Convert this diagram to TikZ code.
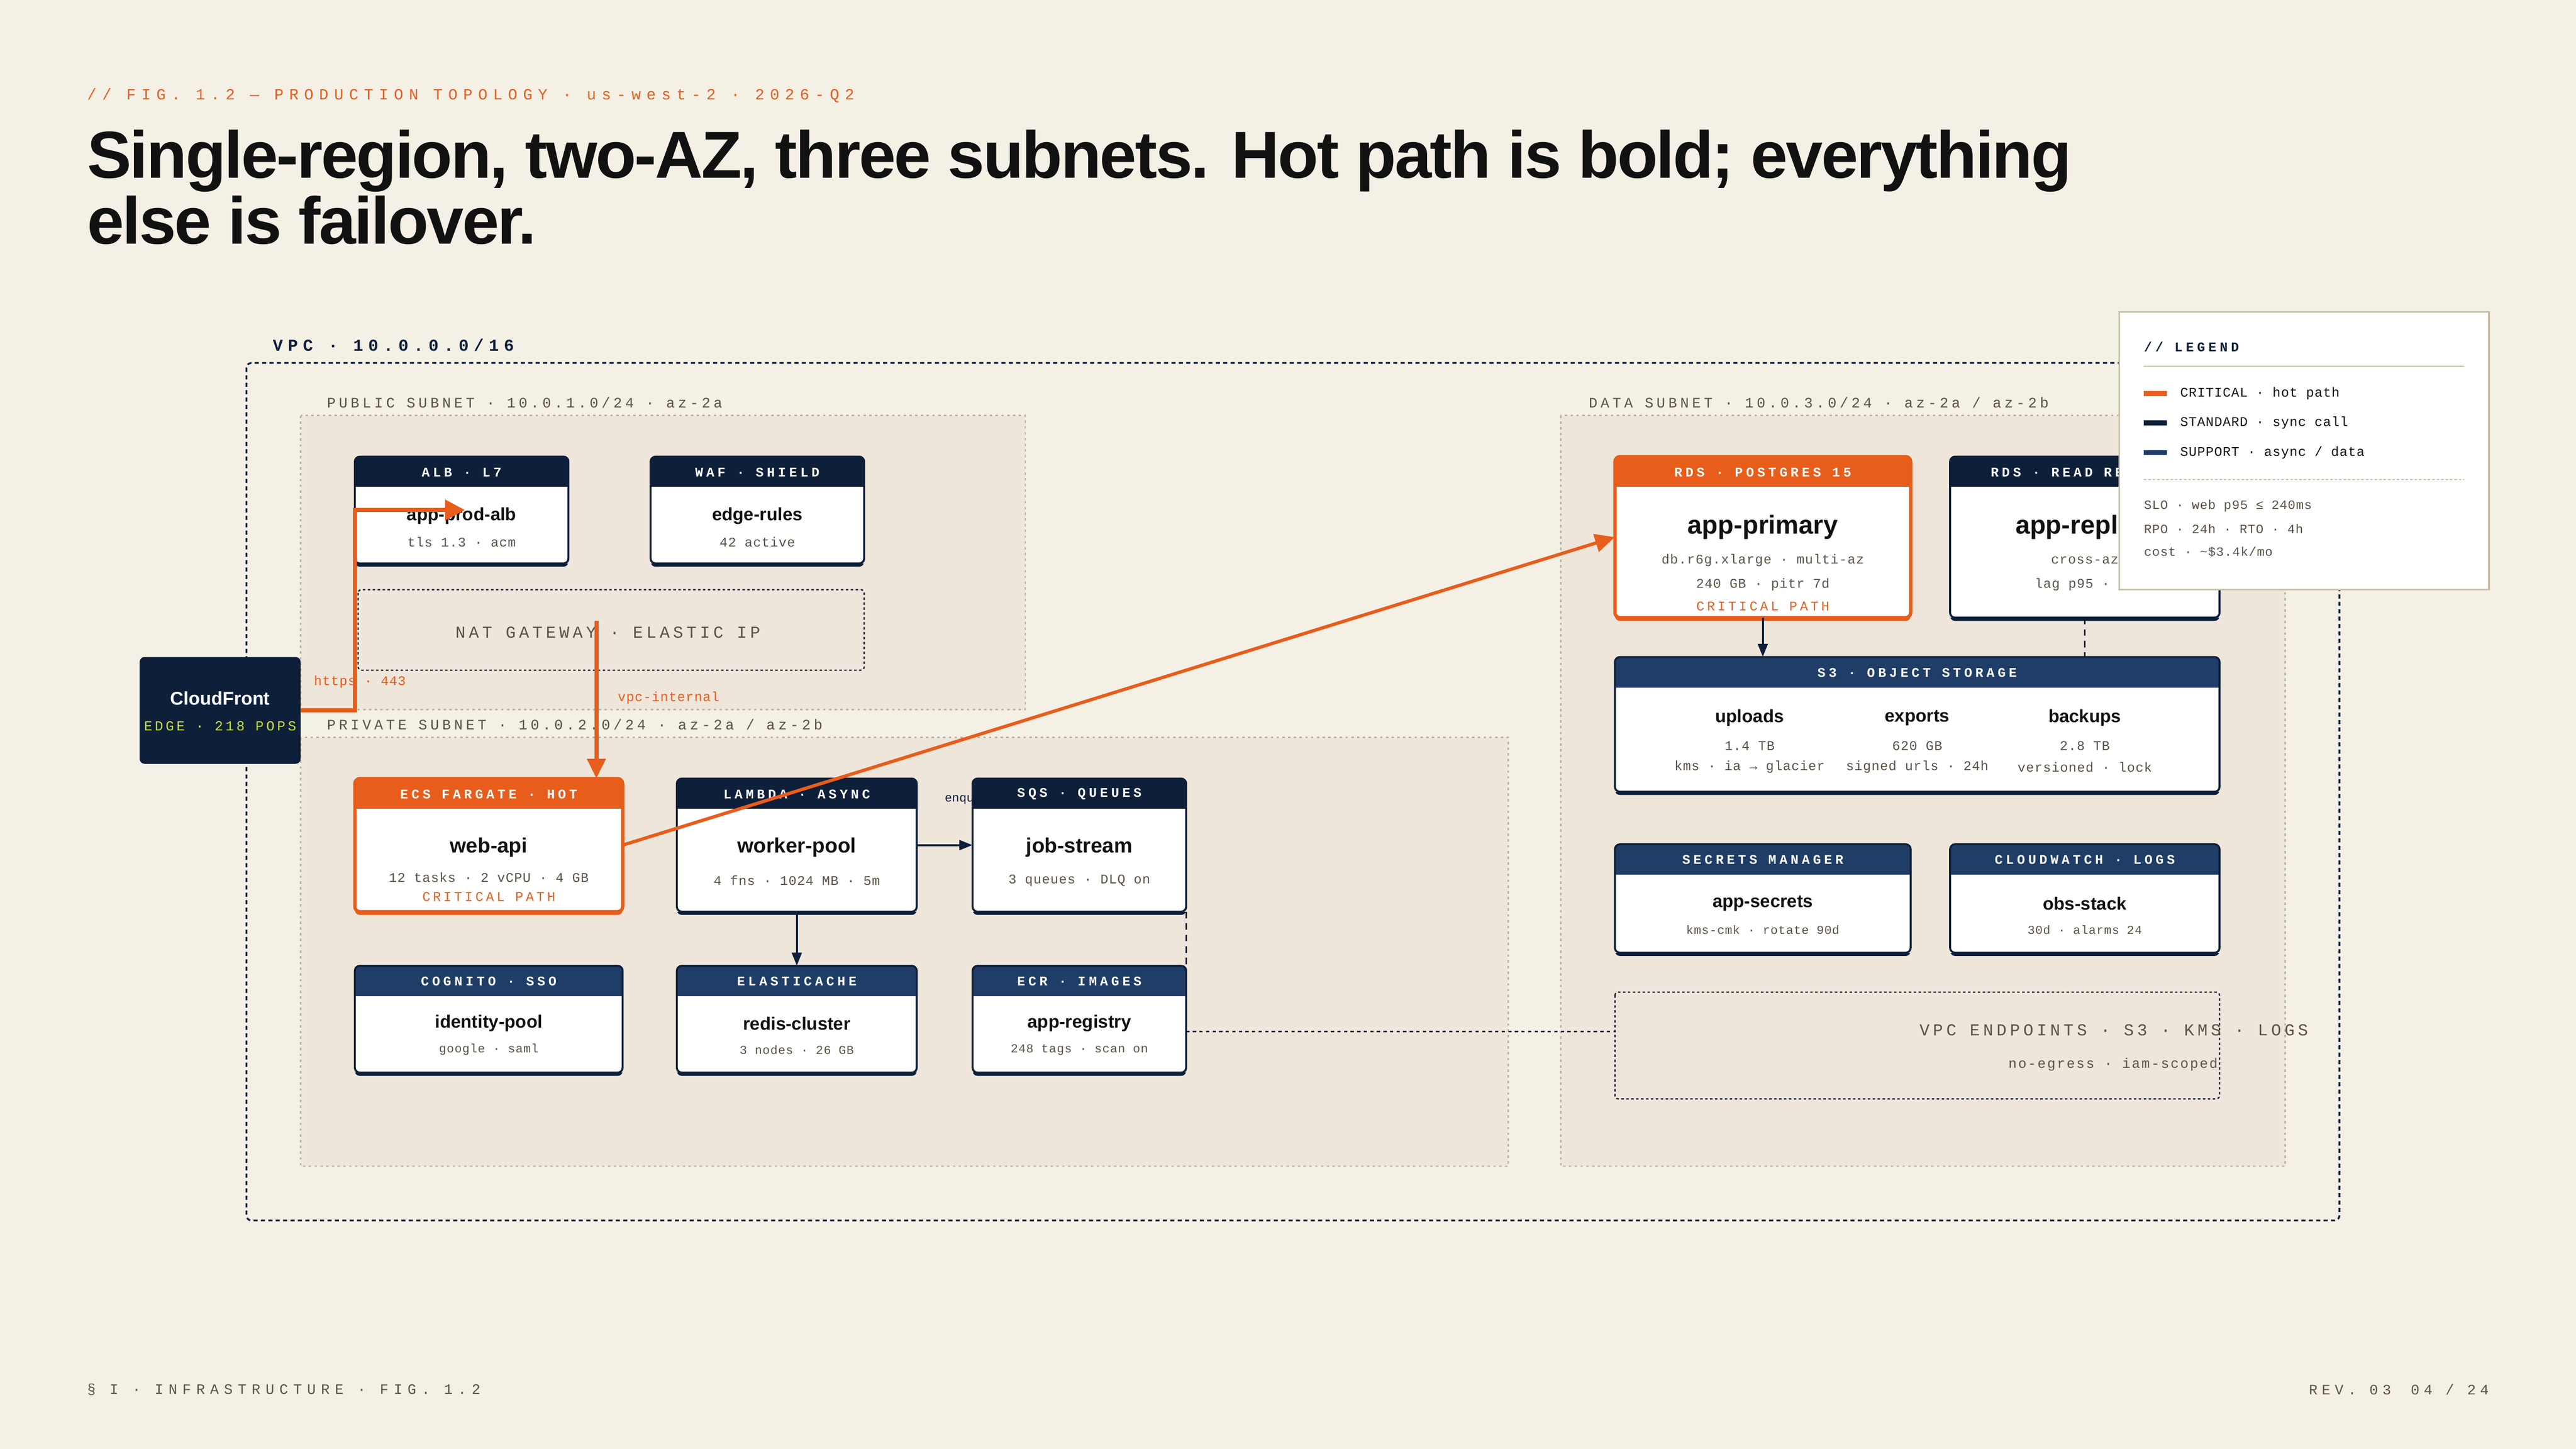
\documentclass[tikz,border=0pt]{standalone}
\usepackage{fontspec}
\setmainfont{Liberation Sans}
\newfontfamily\mono{Liberation Mono}
\usetikzlibrary{arrows.meta,calc}
\definecolor{bg}{HTML}{F4F0E6}
\definecolor{sub}{HTML}{EEE6DA}
\definecolor{navy}{HTML}{0E1F3A}
\definecolor{mblue}{HTML}{1F3D66}
\definecolor{org}{HTML}{E85D1C}
\definecolor{gtx}{HTML}{5B5347}
\definecolor{tan}{HTML}{C9C0A8}
\definecolor{ink}{HTML}{111111}
\definecolor{lime}{HTML}{C8E03C}
\newcommand\fsz[1]{\fontsize{#1pt}{#1pt}\selectfont}
\newcommand\ls[1]{\addfontfeature{LetterSpace=#1}}
\tikzset{
 cardN/.style={color=navy,line width=1.2mm},
 cardO/.style={color=org,line width=2mm},
 hdr/.style={text=white,font=\mono\bfseries\fsz{23}\ls{24},inner sep=0},
 ttl/.style={text=ink,font=\bfseries\fsz{31},inner sep=0},
 subt/.style={text=gtx,font=\mono\fsz{23}\ls{4},inner sep=0},
 crit/.style={text=org,font=\mono\fsz{23}\ls{20},inner sep=0},
 lbl/.style={text=gtx,font=\mono\fsz{25}\ls{22},inner sep=0,anchor=west},
 hot/.style={draw=org,line width=2.5mm,-{Triangle[length=12mm,width=11mm]}},
 std/.style={draw=navy,line width=1.3mm,-{Triangle[length=8mm,width=6mm]}},
 sup/.style={draw=navy,line width=1.1mm,dash pattern=on 4mm off 3mm},
}
\newcommand\card[8]{%
 \fill[#7] (#2,#3+2) [rounded corners=3mm] rectangle (#4,#5+2);
 \node[fill=white,inner sep=0,minimum width={(#4-#2)*1mm},minimum height={(#5-#3)*1mm}] (#1) at ({(#2+#4)/2},{(#3+#5)/2}) {};
 \begin{scope}\clip[rounded corners=3mm] (#2,#3) rectangle (#4,#5);
 \fill[#6] (#2,#3) rectangle (#4,#3+18.5);\end{scope}
 \draw[#7,rounded corners=3mm] (#2,#3) rectangle (#4,#5);
 \node[hdr] (#1-h) at ({(#2+#4)/2},#3+9.5) {#8};
}
\begin{document}
\begin{tikzpicture}[x=1mm,y=-1mm]
\useasboundingbox (0,0) rectangle (1568,882);
\fill[bg] (0,0) rectangle (1568,882);
% header
\node[anchor=west,text=org,font=\mono\fsz{27}\ls{36},inner sep=0] (fig) at (53,58) {// FIG. 1.2 — PRODUCTION TOPOLOGY · us-west-2 · 2026-Q2};
\node[anchor=north west,text=ink,font=\bfseries\fontsize{115pt}{113.8pt}\selectfont\addfontfeature{LetterSpace=-2.5},inner sep=0,align=left] (title) at (53,79) {Single-region, two-AZ, three subnets. Hot path is bold; everything\\else is failover.};
% VPC
\node[anchor=west,text=navy,font=\mono\bfseries\fsz{29}\ls{30},inner sep=0] (vpcl) at (166,210) {VPC · 10.0.0.0/16};
\draw[navy,line width=1.1mm,dash pattern=on 2.5mm off 2mm,rounded corners=3mm] (150,221) rectangle (1424,743);
% subnets
\draw[fill=sub,draw=tan!80!gray,line width=0.8mm,dash pattern=on 1.5mm off 2mm] (183,253) rectangle (624,432);
\draw[fill=sub,draw=tan!80!gray,line width=0.8mm,dash pattern=on 1.5mm off 2mm] (183,449) rectangle (918,710);
\draw[fill=sub,draw=tan!80!gray,line width=0.8mm,dash pattern=on 1.5mm off 2mm] (950,253) rectangle (1391,710);
\node[lbl] (publ) at (199,245) {PUBLIC SUBNET · 10.0.1.0/24 · az-2a};
\node[lbl] (prvl) at (199,441) {PRIVATE SUBNET · 10.0.2.0/24 · az-2a / az-2b};
\node[lbl] (datl) at (967,245) {DATA SUBNET · 10.0.3.0/24 · az-2a / az-2b};
% NAT
\draw[navy,line width=0.8mm,dash pattern=on 1.5mm off 1.5mm,rounded corners=2mm] (218,359) rectangle (526,408);
\node[text=gtx,font=\mono\fsz{29}\ls{20},inner sep=0] (nat) at (370,385) {NAT GATEWAY · ELASTIC IP};
% cloudfront
\node[fill=navy,rounded corners=3mm,minimum width=98mm,minimum height=65mm,inner sep=0] (cf) at (134,432.5) {};
\node[text=white,font=\bfseries\fsz{32},inner sep=0] (cft) at (134,425) {CloudFront};
\node[text=lime,font=\mono\fsz{24}\ls{18},inner sep=0] (cfs) at (134,442) {EDGE · 218 POPS};
% public cards
\card{alb}{216}{278}{346}{343}{navy}{cardN}{ALB · L7}
\node[ttl] (alb-t) at (281,314) {app-prod-alb};
\node[subt] (alb-s) at (281,330) {tls 1.3 · acm};
\card{waf}{396}{278}{526}{343}{navy}{cardN}{WAF · SHIELD}
\node[ttl] (waf-t) at (461,314) {edge-rules};
\node[subt] (waf-s) at (461,330) {42 active};
% private cards
\node[anchor=west,text=navy,font=\mono\fsz{21},inner sep=0] (enq) at (575,487) {enqueue};
\card{ecs}{216}{474}{379}{555}{org}{cardO}{ECS FARGATE · HOT}
\node[ttl,font=\bfseries\fsz{36}] (ecs-t) at (297.5,516) {web-api};
\node[subt] (ecs-s) at (297.5,534) {12 tasks · 2 vCPU · 4 GB};
\node[crit] (ecs-c) at (297.5,546) {CRITICAL PATH};
\card{lam}{412}{474}{558}{555}{navy}{cardN}{LAMBDA · ASYNC}
\node[ttl,font=\bfseries\fsz{36}] (lam-t) at (485,516) {worker-pool};
\node[subt] (lam-s) at (485,536) {4 fns · 1024 MB · 5m};
\card{sqs}{592}{474}{722}{555}{navy}{cardN}{SQS · QUEUES}
\node[ttl,font=\bfseries\fsz{36}] (sqs-t) at (657,516) {job-stream};
\node[subt] (sqs-s) at (657,536) {3 queues · DLQ on};
\card{cog}{216}{588}{379}{653}{mblue}{cardN}{COGNITO · SSO}
\node[ttl] (cog-t) at (297.5,623) {identity-pool};
\node[subt,font=\mono\fsz{21}\ls{4}] (cog-s) at (297.5,639) {google · saml};
\card{ec}{412}{588}{558}{653}{mblue}{cardN}{ELASTICACHE}
\node[ttl] (ec-t) at (485,623) {redis-cluster};
\node[subt,font=\mono\fsz{21}\ls{4}] (ec-s) at (485,639) {3 nodes · 26 GB};
\card{ecr}{592}{588}{722}{653}{mblue}{cardN}{ECR · IMAGES}
\node[ttl] (ecr-t) at (657,623) {app-registry};
\node[subt,font=\mono\fsz{21}\ls{4}] (ecr-s) at (657,639) {248 tags · scan on};
% data cards
\card{rds}{983}{278}{1163}{376}{org}{cardO}{RDS · POSTGRES 15}
\node[ttl,font=\bfseries\fsz{45}] (rds-t) at (1073,321) {app-primary};
\node[subt] (rds-s1) at (1073,341) {db.r6g.xlarge · multi-az};
\node[subt] (rds-s2) at (1073,356) {240 GB · pitr 7d};
\node[crit] (rds-c) at (1073,369) {CRITICAL PATH};
\card{rep}{1187}{278}{1351}{376}{navy}{cardN}{RDS · READ REPLICA}
\node[ttl,font=\bfseries\fsz{45}] (rep-t) at (1269,321) {app-replica};
\node[subt] (rep-s1) at (1269,341) {cross-az};
\node[subt] (rep-s2) at (1269,356) {lag p95 · 2s};
\card{s3}{983}{400}{1351}{482}{mblue}{cardN}{S3 · OBJECT STORAGE}
\node[ttl] (s3a) at (1065,437) {uploads};
\node[subt] (s3a1) at (1065,454) {1.4 TB};
\node[subt] (s3a2) at (1065,467) {kms · ia → glacier};
\node[ttl] (s3b) at (1167,437) {exports};
\node[subt] (s3b1) at (1167,454) {620 GB};
\node[subt] (s3b2) at (1167,467) {signed urls · 24h};
\node[ttl] (s3c) at (1269,437) {backups};
\node[subt] (s3c1) at (1269,454) {2.8 TB};
\node[subt] (s3c2) at (1269,467) {versioned · lock};
\card{sec}{983}{514}{1163}{580}{mblue}{cardN}{SECRETS MANAGER}
\node[ttl] (sec-t) at (1073,550) {app-secrets};
\node[subt,font=\mono\fsz{21}\ls{4}] (sec-s) at (1073,566) {kms-cmk · rotate 90d};
\card{cw}{1187}{514}{1351}{580}{mblue}{cardN}{CLOUDWATCH · LOGS}
\node[ttl] (cw-t) at (1269,550) {obs-stack};
\node[subt,font=\mono\fsz{21}\ls{4}] (cw-s) at (1269,566) {30d · alarms 24};
% vpc endpoints
\draw[navy,line width=0.8mm,dash pattern=on 1.5mm off 1.5mm,rounded corners=2mm] (983,604) rectangle (1351,669);
\node[inner sep=0,minimum width=368mm,minimum height=65mm] (vpce) at (1167,636.5) {};
\node[anchor=east,text=gtx,font=\mono\fsz{29}\ls{20},inner sep=0] (vpce-t) at (1405,627) {VPC ENDPOINTS · S3 · KMS · LOGS};
\node[anchor=east,text=gtx,font=\mono\fsz{24}\ls{10},inner sep=0] (vpce-s) at (1350,648) {no-egress · iam-scoped};
% connectors
\coordinate (alb-in) at (283,310.5);
\draw[hot,-{Triangle[length=12mm,width=12mm]}] (cf.east) -| (alb.west) -- (alb-in);
\node[anchor=west,text=org,font=\mono\fsz{23}\ls{4},inner sep=0] (https) at (191,415) {https · 443};
\coordinate (nat-src) at (363,378);
\draw[hot] (nat-src) -- (nat-src |- ecs.north);
\node[anchor=west,text=org,font=\mono\fsz{23}\ls{4},inner sep=0] (vpci) at (376,425) {vpc-internal};
\draw[hot,line width=2mm] (ecs.east) -- (rds.west);
\draw[std] (lam.east) -- (sqs.west);
\draw[std] (lam.south) -- (ec.north);
\draw[std] (rds.south) -- (rds.south |- s3.north);
\draw[sup] (rep.south) -- (rep.south |- s3.north);
\draw[sup] (sqs.south east) -- (ecr.north east);
\coordinate (ecr-out) at ($(ecr.east)+(0,7.5)$);
\draw[navy,line width=1.1mm,dash pattern=on 2mm off 2mm] (ecr-out) -- (ecr-out -| vpce.west);
% legend
\node[fill=white,draw=tan,line width=1mm,minimum width=225mm,minimum height=169mm,inner sep=0] (leg) at (1402.5,274.5) {};
\node[anchor=west,text=navy,font=\mono\bfseries\fsz{23}\ls{25},inner sep=0] (leg-t) at (1305,211) {// LEGEND};
\draw[tan,line width=0.8mm] (1305,223) -- (1500,223);
\fill[org] (1305,238) rectangle (1319,241);
\fill[navy] (1305,256) rectangle (1319,259);
\fill[mblue] (1305,274) rectangle (1319,277);
\node[anchor=west,text=ink,font=\mono\fsz{23}\ls{4},inner sep=0] (lg1) at (1327,239.5) {CRITICAL · hot path};
\node[anchor=west,text=ink,font=\mono\fsz{23}\ls{4},inner sep=0] (lg2) at (1327,257.5) {STANDARD · sync call};
\node[anchor=west,text=ink,font=\mono\fsz{23}\ls{4},inner sep=0] (lg3) at (1327,275.5) {SUPPORT · async / data};
\draw[tan,line width=0.8mm,dash pattern=on 1.5mm off 1.2mm] (1305,292) -- (1500,292);
\node[anchor=west,text=gtx,font=\mono\fsz{22}\ls{4},inner sep=0] (slo1) at (1305,308) {SLO · web p95 ≤ 240ms};
\node[anchor=west,text=gtx,font=\mono\fsz{22}\ls{4},inner sep=0] (slo2) at (1305,322) {RPO · 24h · RTO · 4h};
\node[anchor=west,text=gtx,font=\mono\fsz{22}\ls{4},inner sep=0] (slo3) at (1305,336) {cost · \textasciitilde\$3.4k/mo};
% footer
\node[anchor=west,text=gtx,font=\mono\fsz{25}\ls{36},inner sep=0] (foot1) at (53,846) {§ I · INFRASTRUCTURE · FIG. 1.2};
\node[anchor=east,text=gtx,font=\mono\fsz{25}\ls{30},inner sep=0] (foot2) at (1515,846) {REV. 03\hspace{12mm}04 / 24};
\end{tikzpicture}
\end{document}
